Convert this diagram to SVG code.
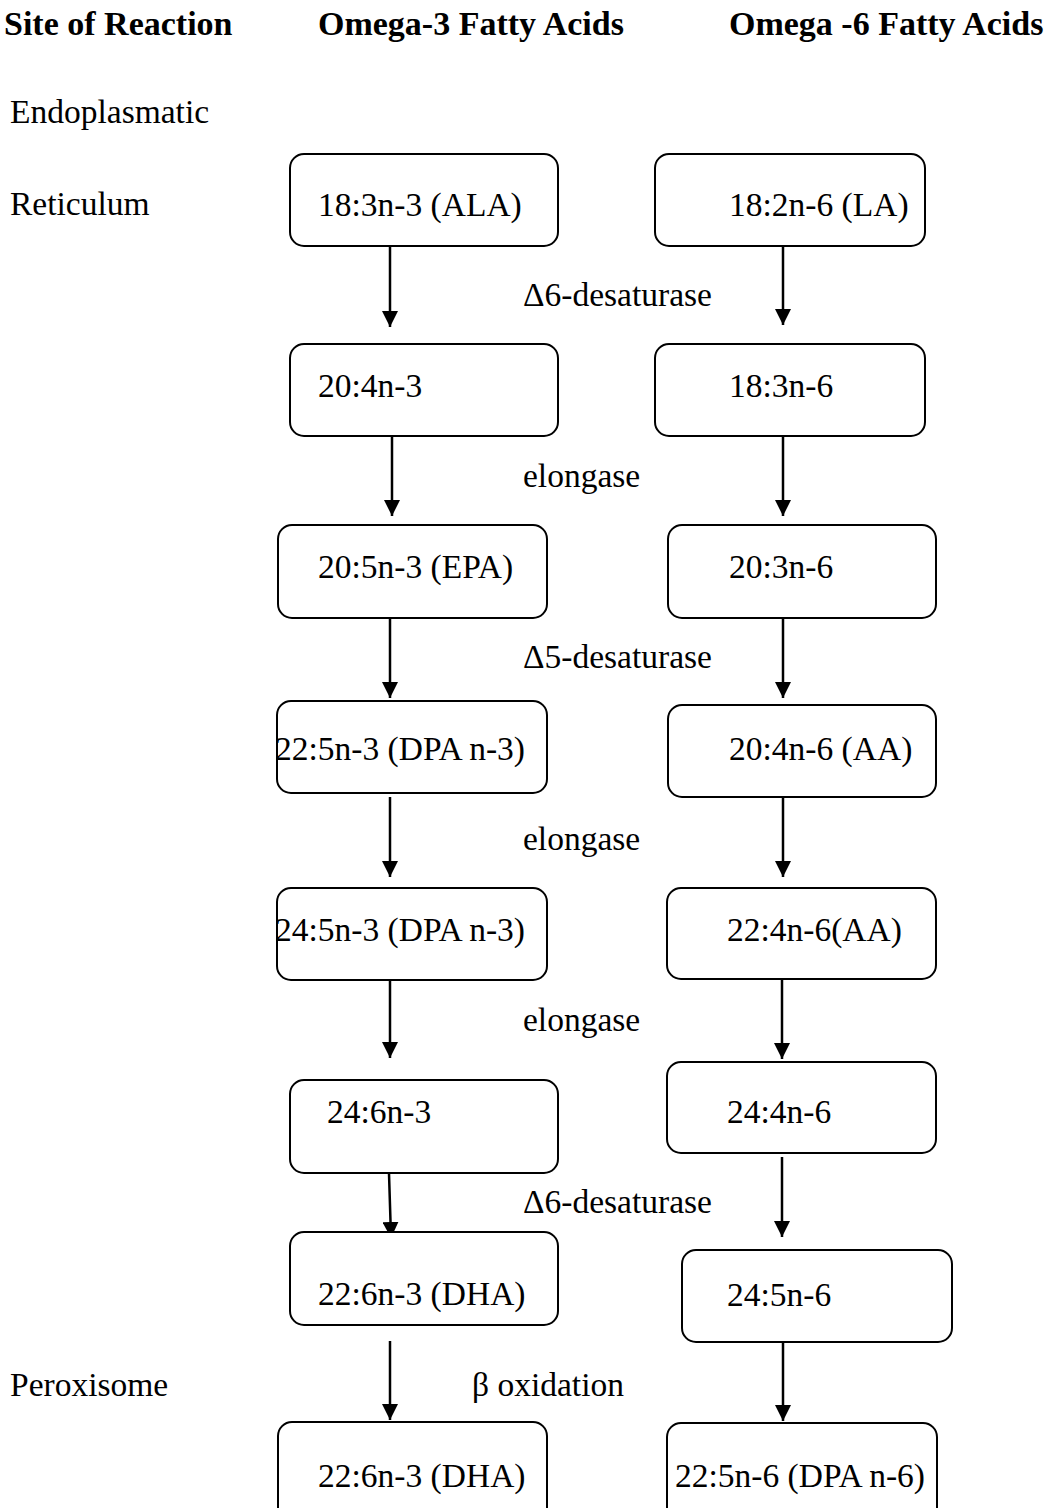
<svg xmlns="http://www.w3.org/2000/svg" width="1053" height="1508" viewBox="0 0 1053 1508">
<style>
  text { font-family: "Liberation Serif", "Times New Roman", serif; fill: #000; }
  .h { font-size: 34px; font-weight: bold; }
  .t { font-size: 33.5px; }
  .box { fill: #fff; stroke: #000; stroke-width: 2; }
  .arr { stroke: #000; stroke-width: 2.5; fill: none; marker-end: url(#ah); }
</style>
<defs>
  <marker id="ah" markerUnits="userSpaceOnUse" markerWidth="16" markerHeight="16" refX="16" refY="8" orient="auto">
    <path d="M0,0 L16,8 L0,16 z" fill="#000"/>
  </marker>
</defs>
<rect width="1053" height="1508" fill="#fff"/>
<g id="headers">
  <text class="h" x="4" y="35">Site of Reaction</text>
  <text class="h" x="318" y="35">Omega-3 Fatty Acids</text>
  <text class="h" x="729" y="35">Omega -6 Fatty Acids</text>
</g>
<g id="sites">
  <text class="t" x="10" y="123">Endoplasmatic</text>
  <text class="t" x="10" y="215">Reticulum</text>
  <text class="t" x="10" y="1396">Peroxisome</text>
</g>
<g id="enzymes">
  <text class="t" x="523" y="306">Δ6-desaturase</text>
  <text class="t" x="523" y="487">elongase</text>
  <text class="t" x="523" y="668">Δ5-desaturase</text>
  <text class="t" x="523" y="850">elongase</text>
  <text class="t" x="523" y="1031">elongase</text>
  <text class="t" x="523" y="1213">Δ6-desaturase</text>
  <text class="t" x="472" y="1396">β oxidation</text>
</g>
<g id="connectors">
  <line class="arr" x1="390" y1="246" x2="390" y2="327"/>
  <line class="arr" x1="392" y1="436" x2="392" y2="516"/>
  <line class="arr" x1="390" y1="618" x2="390" y2="698"/>
  <line class="arr" x1="390" y1="797" x2="390" y2="877"/>
  <line class="arr" x1="390" y1="980" x2="390" y2="1058"/>
  <line class="arr" x1="389" y1="1173" x2="391" y2="1238"/>
  <line class="arr" x1="390" y1="1341" x2="390" y2="1420"/>
  <line class="arr" x1="783" y1="246" x2="783" y2="325"/>
  <line class="arr" x1="783" y1="436" x2="783" y2="516"/>
  <line class="arr" x1="783" y1="618" x2="783" y2="698"/>
  <line class="arr" x1="783" y1="797" x2="783" y2="877"/>
  <line class="arr" x1="782" y1="979" x2="782" y2="1059"/>
  <line class="arr" x1="782" y1="1157" x2="782" y2="1237"/>
  <line class="arr" x1="783" y1="1342" x2="783" y2="1421"/>
</g>
<g id="n3-1"><rect class="box" x="290" y="154" width="268" height="92" rx="14"/><text class="t" x="318" y="216">18:3n-3 (ALA)</text></g>
<g id="n6-1"><rect class="box" x="655" y="154" width="270" height="92" rx="14"/><text class="t" x="729" y="216">18:2n-6 (LA)</text></g>
<g id="n3-2"><rect class="box" x="290" y="344" width="268" height="92" rx="14"/><text class="t" x="318" y="397">20:4n-3</text></g>
<g id="n6-2"><rect class="box" x="655" y="344" width="270" height="92" rx="14"/><text class="t" x="729" y="397">18:3n-6</text></g>
<g id="n3-3"><rect class="box" x="278" y="525" width="269" height="93" rx="14"/><text class="t" x="318" y="578">20:5n-3 (EPA)</text></g>
<g id="n6-3"><rect class="box" x="668" y="525" width="268" height="93" rx="14"/><text class="t" x="729" y="578">20:3n-6</text></g>
<g id="n3-4"><rect class="box" x="277" y="701" width="270" height="92" rx="14"/><text class="t" x="275" y="760">22:5n-3 (DPA n-3)</text></g>
<g id="n6-4"><rect class="box" x="668" y="705" width="268" height="92" rx="14"/><text class="t" x="729" y="760">20:4n-6 (AA)</text></g>
<g id="n3-5"><rect class="box" x="277" y="888" width="270" height="92" rx="14"/><text class="t" x="275" y="941">24:5n-3 (DPA n-3)</text></g>
<g id="n6-5"><rect class="box" x="667" y="888" width="269" height="91" rx="14"/><text class="t" x="727" y="941">22:4n-6(AA)</text></g>
<g id="n3-6"><rect class="box" x="290" y="1080" width="268" height="93" rx="14"/><text class="t" x="327" y="1123">24:6n-3</text></g>
<g id="n6-6"><rect class="box" x="667" y="1062" width="269" height="91" rx="14"/><text class="t" x="727" y="1123">24:4n-6</text></g>
<g id="n3-7"><rect class="box" x="290" y="1232" width="268" height="93" rx="14"/><text class="t" x="318" y="1305">22:6n-3 (DHA)</text></g>
<g id="n6-7"><rect class="box" x="682" y="1250" width="270" height="92" rx="14"/><text class="t" x="727" y="1306">24:5n-6</text></g>
<g id="n3-8"><rect class="box" x="278" y="1422" width="269" height="110" rx="14"/><text class="t" x="318" y="1487">22:6n-3 (DHA)</text></g>
<g id="n6-8"><rect class="box" x="667" y="1423" width="270" height="110" rx="14"/><text class="t" x="675" y="1487">22:5n-6 (DPA n-6)</text></g>
</svg>
